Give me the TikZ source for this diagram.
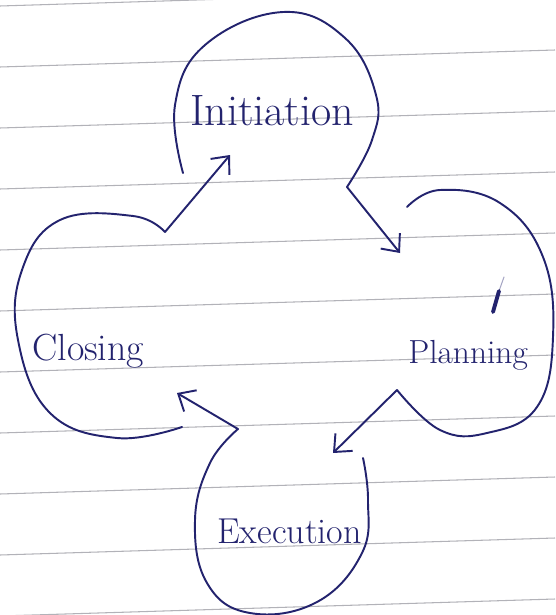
\documentclass[tikz,border=0pt]{standalone}
\usetikzlibrary{positioning,arrows.meta}
\definecolor{ink}{RGB}{35,35,110}
\definecolor{ruled}{RGB}{178,178,184}

\begin{document}
\begin{tikzpicture}[x=0.02cm,y=-0.02cm,
	pen/.style={draw=ink,line width=1.1pt,line cap=round,line join=round},
	loop/.style={pen,smooth,tension=0.7},
	arr/.style={pen,-{Straight Barb[length=8pt,width=14pt]}},
	lbl/.style={text=ink,anchor=base west,inner sep=0pt}]
	\useasboundingbox[fill=white] (0,0) rectangle (555,615);
	\foreach \y in {6,67,...,618}
		\draw[ruled,line width=0.6pt] (0,\y) -- (555,\y-17);
	\node[lbl,font=\fontsize{25}{29}\selectfont] (init) at (190,126) {Initiation};
	\node[lbl,font=\fontsize{19}{23}\selectfont] (plan) at (408,363) {Planning};
	\node[lbl,font=\fontsize{20.5}{24}\selectfont] (exec) at (217,543) {Execution};
	\node[lbl,font=\fontsize{21.5}{25}\selectfont] (clos) at (32,360) {Closing};
	\coordinate (initEnd) at (347,187);
	\coordinate (planTip) at (400,253);
	\coordinate (planEnd) at (397,390);
	\coordinate (execTip) at (333,453);
	\coordinate (execEnd) at (238,429);
	\coordinate (closTip) at (177,393);
	\coordinate (closEnd) at (165,232);
	\coordinate (initTip) at (230,155);
	\draw[loop] plot coordinates {(183,173) (175,105) (205,45) (283,12) (345,38) (376,95) (372,140) (initEnd)};
	\draw[loop] plot coordinates {(407,207) (440,190) (500,203) (543,257) (553,337) (537,407) (487,433) (440,430) (planEnd)};
	\draw[loop] plot coordinates {(execEnd) (210,463) (195,520) (207,583) (250,613) (317,602) (362,553) (368,500) (363,458)};
	\draw[loop] plot coordinates {(182,427) (117,438) (50,413) (18,340) (22,270) (60,220) (133,216) (closEnd)};
	\draw[arr] (initEnd) -- (planTip);
	\draw[arr] (planEnd) -- (execTip);
	\draw[arr] (execEnd) -- (closTip);
	\draw[arr] (closEnd) -- (initTip);
	\draw[pen,line width=2.2pt] (493,312) -- (499,291);
	\draw[pen,line width=0.6pt,opacity=0.4] (499,291) -- (504,277);
\end{tikzpicture}
\end{document}
